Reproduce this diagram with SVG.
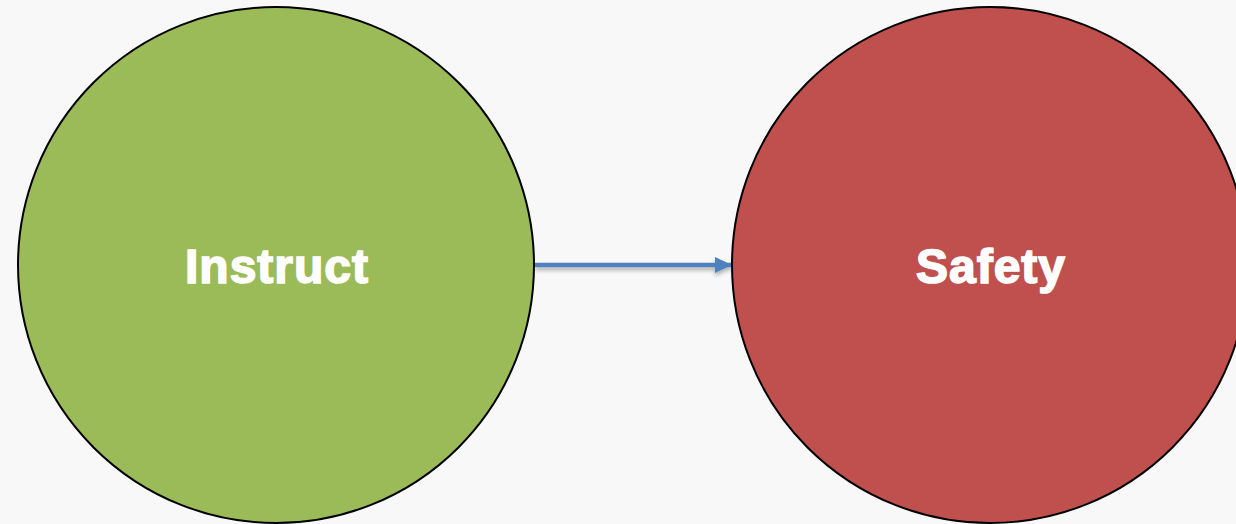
<svg xmlns="http://www.w3.org/2000/svg" width="1236" height="524" viewBox="0 0 1236 524">
<style>
.node{stroke:#000;stroke-width:2}
.label{font-family:"Liberation Sans",Arial,sans-serif;font-weight:bold;font-size:48px;fill:#fff;stroke:#fff;stroke-width:1.6;text-anchor:middle;letter-spacing:1px}
.conn{stroke:#4f81bd;stroke-width:4.5;fill:none}
</style>
<defs>
<marker id="arr" markerUnits="userSpaceOnUse" markerWidth="18" markerHeight="18" refX="17" refY="8" orient="auto">
<path d="M0,0 L17,8 L0,16 Z" fill="#4f81bd"/>
</marker>
<filter id="sh" filterUnits="userSpaceOnUse" x="520" y="240" width="230" height="50">
<feGaussianBlur in="SourceAlpha" stdDeviation="2"/>
<feOffset dx="0" dy="3" result="b"/>
<feComponentTransfer><feFuncA type="linear" slope="0.3"/></feComponentTransfer>
<feMerge><feMergeNode/><feMergeNode in="SourceGraphic"/></feMerge>
</filter>
</defs>
<rect width="1236" height="524" fill="#f8f8f8"/>
<g id="connectors">
<line class="conn" x1="535" y1="265" x2="732" y2="265" marker-end="url(#arr)" filter="url(#sh)"/>
</g>
<g id="instruct">
<circle class="node" cx="276" cy="265" r="258" fill="#9bbb59"/>
<text class="label" x="277" y="283">Instruct</text>
</g>
<g id="safety">
<circle class="node" cx="990" cy="265" r="258" fill="#c0504d"/>
<text class="label" x="991" y="283">Safety</text>
</g>
</svg>
